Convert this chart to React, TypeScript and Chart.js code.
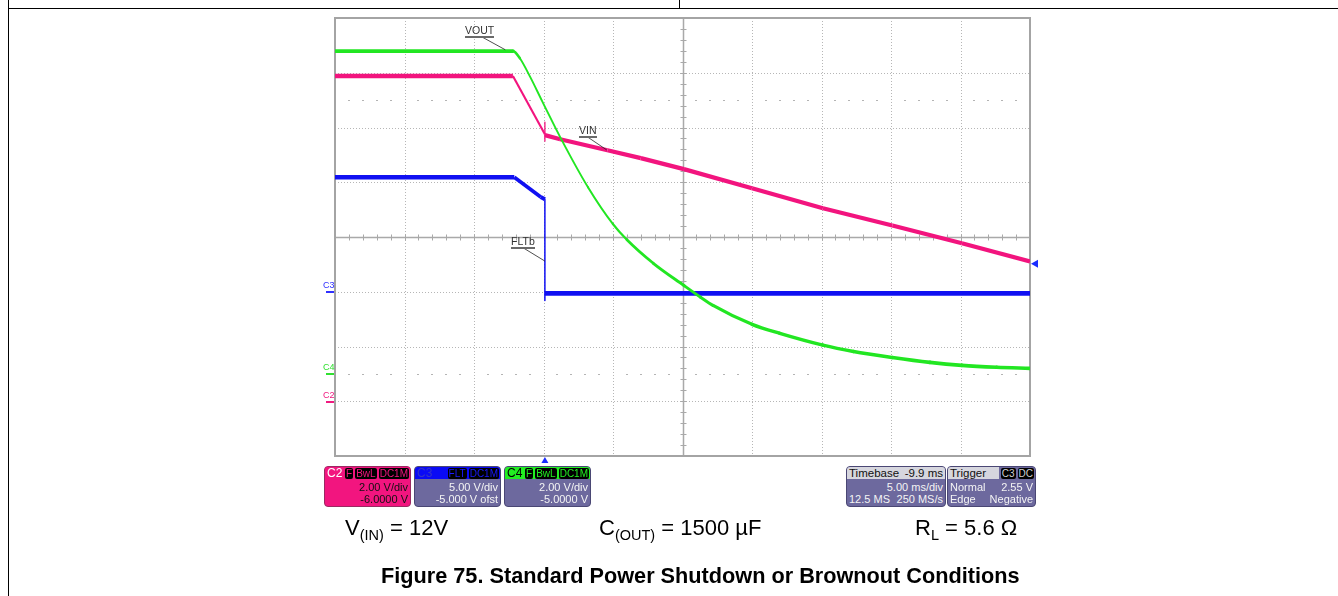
import React, { useEffect, useRef } from 'react';
import { Chart, registerables } from 'chart.js';

Chart.register(...registerables);

// ---- Acquisition settings (from the scope's info boxes) ----
const timePerDivMs = 5;
const timebaseDelayMs = -9.9;
const horizontalDivs = 10;
const verticalDivs = 8;
const vinVoltsPerDiv = 2;
const vinOffsetVolts = -6;
const fltVoltsPerDiv = 5;
const fltOffsetVolts = -5;
const voutVoltsPerDiv = 2;
const voutOffsetVolts = -5;
const triggerLevelVolts = 2.55;

// ---- C4: VOUT (green) ----
const voutTimeMs = [-15.1, -2.3, -1.8, -1.05, -0.3, 0.05, 1.1, 3.1, 4.9, 5.9, 7.8, 10.0, 11.2, 12.1, 14.9, 16.9, 20.0, 22.2, 25.0, 27.7, 30.0, 32.5, 34.9];
const voutVolts = [11.79, 11.79, 11.53, 10.84, 10.07, 9.71, 8.65, 6.82, 5.47, 4.9, 4.04, 3.23, 2.8, 2.5, 1.81, 1.48, 1.05, 0.82, 0.6, 0.42, 0.31, 0.24, 0.2];

// ---- C2: VIN (pink) ----
const vinTimeMs = [-15.1, -2.3, 0.0, 0.0, 0.0, 0.0, 1.1, 4.5, 6.9, 10.0, 14.9, 20.0, 25.0, 30.0, 34.9];
const vinVolts = [11.88, 11.88, 9.75, 10.2, 9.5, 9.72, 9.57, 9.17, 8.88, 8.48, 7.78, 7.05, 6.42, 5.77, 5.11];

// ---- C3: FLTb (blue) ----
const fltTimeMs = [-15.1, -2.2, -0.3, 0.0, 0.0, 0.0, 34.9];
const fltVolts = [10.46, 10.46, 8.66, 8.45, -0.79, -0.15, -0.15];

// ---- Annotation leader lines ----
const leaderLabels = ['VOUT', 'VIN', 'FLTb'];
const leaderStartMs = [-4.5, 3.05, -1.55];
const leaderEndMs = [-2.85, 4.45, 0.0];
const leaderStartDiv = [3.65, 1.83, -0.2];
const leaderEndDiv = [3.42, 1.59, -0.44];

const xCenter = -timebaseDelayMs;
const xMin = xCenter - (horizontalDivs / 2) * timePerDivMs;
const xMax = xCenter + (horizontalDivs / 2) * timePerDivMs;

const toDiv = (v: number, perDiv: number, offset: number) => (v + offset) / perDiv;

// trace drawn as a band of vertical thickness h: steep segments look thinner
const bandWidth = (h: number, min: number) => (c: any) => {
  const dx = c.p1.x - c.p0.x;
  const dy = c.p1.y - c.p0.y;
  const len = Math.hypot(dx, dy) || 1;
  return Math.max(min, (h * Math.abs(dx)) / len);
};

const FONT = '"Liberation Sans", Arial, Helvetica, sans-serif';

const graticule = {
  id: 'graticule',
  beforeDatasetsDraw(chart: any) {
    const { ctx, chartArea: a, scales } = chart;
    const x = scales.x;
    const y = scales.y;
    ctx.save();
    ctx.strokeStyle = '#b6b6b6';
    ctx.lineWidth = 1;
    ctx.setLineDash([1, 2]);
    for (let k = 1; k < horizontalDivs; k++) {
      if (k === horizontalDivs / 2) continue;
      const px = Math.round(x.getPixelForValue(xMin + k * timePerDivMs)) + 0.5;
      ctx.beginPath();
      ctx.moveTo(px, a.top);
      ctx.lineTo(px, a.bottom);
      ctx.stroke();
    }
    for (let d = -verticalDivs / 2 + 1; d < verticalDivs / 2; d++) {
      if (d === 0) continue;
      const py = Math.round(y.getPixelForValue(d)) + 0.5;
      ctx.beginPath();
      ctx.moveTo(a.left, py);
      ctx.lineTo(a.right, py);
      ctx.stroke();
    }
    ctx.setLineDash([]);
    ctx.fillStyle = '#b4b4b4';
    for (const d of [2.5, -2.5]) {
      const py = Math.round(y.getPixelForValue(d));
      for (let i = 1; i < horizontalDivs * 5; i++) {
        if (i % 5 === 0) continue;
        const px = Math.round(x.getPixelForValue(xMin + (i * timePerDivMs) / 5));
        ctx.fillRect(px - 1, py, 2, 1);
      }
    }
    const cx = Math.round(x.getPixelForValue(xCenter)) + 0.5;
    const cy = Math.round(y.getPixelForValue(0)) + 0.5;
    ctx.strokeStyle = '#a9a9a9';
    ctx.lineWidth = 1.5;
    ctx.beginPath();
    ctx.moveTo(cx, a.top);
    ctx.lineTo(cx, a.bottom);
    ctx.moveTo(a.left, cy);
    ctx.lineTo(a.right, cy);
    ctx.stroke();
    ctx.lineWidth = 1;
    ctx.beginPath();
    for (let i = 1; i < horizontalDivs * 5; i++) {
      const px = Math.round(x.getPixelForValue(xMin + (i * timePerDivMs) / 5)) + 0.5;
      ctx.moveTo(px, cy - 3);
      ctx.lineTo(px, cy + 3);
    }
    for (let j = 1; j < verticalDivs * 5; j++) {
      const py = Math.round(y.getPixelForValue(-verticalDivs / 2 + j / 5)) + 0.5;
      ctx.moveTo(cx - 3, py);
      ctx.lineTo(cx + 3, py);
    }
    ctx.stroke();
    ctx.strokeStyle = '#a4a4a4';
    ctx.lineWidth = 2;
    ctx.strokeRect(a.left, a.top, a.right - a.left, a.bottom - a.top);
    ctx.restore();
  },
};

const overlay = {
  id: 'overlay',
  afterDatasetsDraw(chart: any) {
    const { ctx, chartArea: a, scales } = chart;
    const x = scales.x;
    const y = scales.y;
    ctx.save();
    ctx.strokeStyle = '#222';
    ctx.lineWidth = 0.8;
    for (let i = 0; i < leaderLabels.length; i++) {
      ctx.beginPath();
      ctx.moveTo(x.getPixelForValue(leaderStartMs[i]), y.getPixelForValue(leaderStartDiv[i]));
      ctx.lineTo(x.getPixelForValue(leaderEndMs[i]), y.getPixelForValue(leaderEndDiv[i]));
      ctx.stroke();
    }
    ctx.fillStyle = '#1a2cff';
    const tx = x.getPixelForValue(0);
    ctx.beginPath();
    ctx.moveTo(tx, a.bottom + 1);
    ctx.lineTo(tx - 3.5, a.bottom + 7);
    ctx.lineTo(tx + 3.5, a.bottom + 7);
    ctx.closePath();
    ctx.fill();
    const ty = y.getPixelForValue(toDiv(triggerLevelVolts, fltVoltsPerDiv, fltOffsetVolts));
    ctx.beginPath();
    ctx.moveTo(a.right + 1, ty);
    ctx.lineTo(a.right + 8, ty - 4);
    ctx.lineTo(a.right + 8, ty + 4);
    ctx.closePath();
    ctx.fill();
    ctx.restore();
  },
};

const Tag = ({ text, color }: { text: string; color: string }) => (
  <span
    style={{
      background: '#000',
      color,
      borderRadius: 2,
      padding: '0 1px',
      marginLeft: 2,
      fontSize: 10,
      lineHeight: '11px',
      height: 11,
      display: 'inline-block',
    }}
  >
    {text}
  </span>
);

type BoxProps = {
  left: number;
  width: number;
  bg: string;
  headBg: string;
  textColor: string;
  head: React.ReactNode;
  row2: React.ReactNode;
  row3: React.ReactNode;
  border: string;
};

const InfoBox = ({ left, width, bg, headBg, textColor, head, row2, row3, border }: BoxProps) => (
  <div
    style={{
      position: 'absolute',
      left,
      top: 466,
      width,
      height: 41,
      boxSizing: 'border-box',
      background: bg,
      border: `1px solid ${border}`,
      borderRadius: 4,
      overflow: 'hidden',
      fontFamily: FONT,
      fontSize: 11,
      color: textColor,
    }}
  >
    <div
      style={{
        position: 'absolute',
        left: 0,
        right: 0,
        top: 0,
        height: 12,
        background: headBg,
        display: 'flex',
        alignItems: 'center',
        padding: '0 1px 0 2px',
        lineHeight: '12px',
      }}
    >
      {head}
    </div>
    <div style={{ position: 'absolute', left: 2, right: 2, top: 14, height: 12, lineHeight: '12px', display: 'flex', justifyContent: 'space-between' }}>
      {row2}
    </div>
    <div style={{ position: 'absolute', left: 2, right: 2, top: 26, height: 12, lineHeight: '12px', display: 'flex', justifyContent: 'space-between' }}>
      {row3}
    </div>
  </div>
);

const ChannelMark = ({ text, color, top }: { text: string; color: string; top: number }) => (
  <>
    <div style={{ position: 'absolute', left: 323, top: top - 11, fontFamily: FONT, fontSize: 9, lineHeight: '9px', color }}>{text}</div>
    <div style={{ position: 'absolute', left: 326, top: top - 1, width: 8, height: 2, background: color }} />
  </>
);

const WaveLabel = ({ text, left, top }: { text: string; left: number; top: number }) => (
  <div
    style={{
      position: 'absolute',
      left,
      top,
      fontFamily: FONT,
      fontSize: 10.5,
      lineHeight: '10px',
      color: '#333',
      borderBottom: '2px solid #6a6a6a',
      paddingBottom: 1,
    }}
  >
    {text}
  </div>
);

export default function App() {
  const canvasRef = useRef<HTMLCanvasElement | null>(null);

  useEffect(() => {
    const canvas = canvasRef.current;
    if (!canvas) return;
    const chart = new Chart(canvas, {
      type: 'scatter',
      data: {
        datasets: [
          {
            label: 'VOUT',
            data: voutTimeMs.map((t, i) => ({ x: t, y: toDiv(voutVolts[i], voutVoltsPerDiv, voutOffsetVolts) })),
            showLine: true,
            borderColor: '#22e622',
            borderWidth: 3,
            pointRadius: 0,
            cubicInterpolationMode: 'monotone',
            borderJoinStyle: 'round',
            borderCapStyle: 'round',
            segment: { borderWidth: bandWidth(3.6, 1.9) },
            order: 0,
          },
          {
            label: 'FLTb',
            data: fltTimeMs.map((t, i) => ({ x: t, y: toDiv(fltVolts[i], fltVoltsPerDiv, fltOffsetVolts) })),
            showLine: true,
            borderColor: '#1010f2',
            borderWidth: 4.5,
            pointRadius: 0,
            borderJoinStyle: 'round',
            segment: { borderWidth: bandWidth(4.6, 1.5) },
            order: 1,
          },
          {
            label: 'VIN',
            data: vinTimeMs.map((t, i) => ({ x: t, y: toDiv(vinVolts[i], vinVoltsPerDiv, vinOffsetVolts) })),
            showLine: true,
            borderColor: '#f2147e',
            borderWidth: 4,
            pointRadius: 0,
            borderJoinStyle: 'round',
            segment: { borderWidth: bandWidth(4.4, 1.3) },
            order: 2,
          },
        ],
      },
      options: {
        responsive: false,
        animation: false,
        events: [],
        layout: { padding: { left: 335, top: 18, right: 308, bottom: 140 } },
        scales: {
          x: { type: 'linear', min: xMin, max: xMax, display: false },
          y: { type: 'linear', min: -verticalDivs / 2, max: verticalDivs / 2, display: false },
        },
        plugins: { legend: { display: false }, tooltip: { enabled: false } },
      } as any,
      plugins: [graticule, overlay],
    });
    return () => chart.destroy();
  }, []);

  const white = '#f4f4f4';
  const sub = { fontSize: 14.5, verticalAlign: 'baseline', position: 'relative' as const, top: 5 };
  const param = { position: 'absolute' as const, top: 517, fontFamily: FONT, fontSize: 22, lineHeight: '22px', color: '#000', whiteSpace: 'nowrap' as const };

  return (
    <div style={{ position: 'fixed', left: 0, top: 0, width: 1338, height: 596, background: '#fff', overflow: 'hidden' }}>
      <div style={{ position: 'absolute', left: 8, top: 0, width: 1, height: 596, background: '#000' }} />
      <div style={{ position: 'absolute', left: 8, top: 8, width: 1330, height: 1, background: '#000' }} />
      <div style={{ position: 'absolute', left: 679, top: 0, width: 1, height: 8, background: '#000' }} />

      <canvas ref={canvasRef} width={1338} height={596} style={{ position: 'absolute', left: 0, top: 0 }} />

      <WaveLabel text="VOUT" left={465} top={25} />
      <WaveLabel text="VIN" left={579} top={125} />
      <WaveLabel text="FLTb" left={511} top={236} />

      <ChannelMark text="C3" color="#3030ff" top={292} />
      <ChannelMark text="C4" color="#30e030" top={374} />
      <ChannelMark text="C2" color="#f01a80" top={402} />

      <InfoBox
        left={324}
        width={87}
        bg="#f2157f"
        headBg="#f2157f"
        textColor="#111"
        border="#9a2a62"
        head={
          <>
            <span style={{ color: '#fff', fontSize: 12, marginRight: 'auto' }}>C2</span>
            <Tag text="F" color="#f2157f" />
            <Tag text="BwL" color="#f2157f" />
            <Tag text="DC1M" color="#f2157f" />
          </>
        }
        row2={<><span /><span>2.00 V/div</span></>}
        row3={<><span /><span>-6.0000 V</span></>}
      />
      <InfoBox
        left={414}
        width={87}
        bg="#6d699e"
        headBg="#0a0af5"
        textColor={white}
        border="#4a4774"
        head={
          <>
            <span style={{ color: '#3434c8', fontSize: 12, marginRight: 'auto' }}>C3</span>
            <Tag text="FLT" color="#1a1aff" />
            <Tag text="DC1M" color="#1a1aff" />
          </>
        }
        row2={<><span /><span>5.00 V/div</span></>}
        row3={<><span /><span>-5.000 V ofst</span></>}
      />
      <InfoBox
        left={504}
        width={87}
        bg="#6d699e"
        headBg="#22ee22"
        textColor={white}
        border="#4a4774"
        head={
          <>
            <span style={{ color: '#000', fontSize: 12, marginRight: 'auto' }}>C4</span>
            <Tag text="F" color="#22ee22" />
            <Tag text="BwL" color="#22ee22" />
            <Tag text="DC1M" color="#22ee22" />
          </>
        }
        row2={<><span /><span>2.00 V/div</span></>}
        row3={<><span /><span>-5.0000 V</span></>}
      />
      <InfoBox
        left={846}
        width={100}
        bg="#6d699e"
        headBg="#d6d6de"
        textColor={white}
        border="#4a4774"
        head={
          <div style={{ display: 'flex', justifyContent: 'space-between', width: '100%', color: '#111', fontSize: 11.5, paddingRight: 1 }}>
            <span>Timebase</span>
            <span>-9.9 ms</span>
          </div>
        }
        row2={<><span /><span>5.00 ms/div</span></>}
        row3={<><span>12.5 MS</span><span>250 MS/s</span></>}
      />
      <InfoBox
        left={947}
        width={89}
        bg="#6d699e"
        headBg="#6d699e"
        textColor={white}
        border="#4a4774"
        head={
          <>
            <span style={{ background: '#d6d6de', color: '#111', fontSize: 11.5, width: 50, marginLeft: -2, paddingLeft: 2, marginRight: 'auto' }}>Trigger</span>
            <Tag text="C3" color="#cfcfcf" />
            <Tag text="DC" color="#cfcfcf" />
          </>
        }
        row2={<><span>Normal</span><span>2.55 V</span></>}
        row3={<><span>Edge</span><span>Negative</span></>}
      />

      <div style={{ ...param, left: 345 }}>
        V<span style={sub}>(IN)</span> = 12V
      </div>
      <div style={{ ...param, left: 599 }}>
        C<span style={sub}>(OUT)</span> = 1500 µF
      </div>
      <div style={{ ...param, left: 915 }}>
        R<span style={sub}>L</span> = 5.6 Ω
      </div>
      <div style={{ position: 'absolute', left: 381, top: 565, fontFamily: FONT, fontSize: 21.7, fontWeight: 'bold', lineHeight: '22px', color: '#000', whiteSpace: 'nowrap' }}>
        Figure 75. Standard Power Shutdown or Brownout Conditions
      </div>
    </div>
  );
}
